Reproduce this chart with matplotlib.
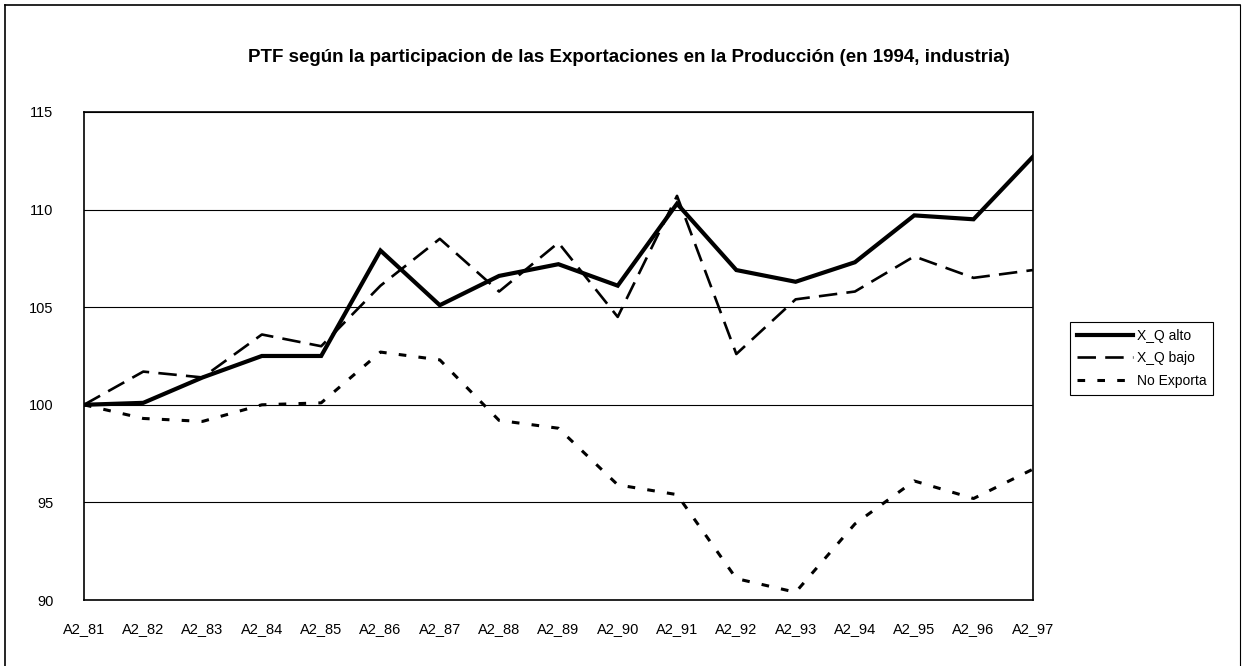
import matplotlib
matplotlib.use("Agg")
import matplotlib.pyplot as plt
from matplotlib.lines import Line2D

plt.rcParams['font.family'] = ['Liberation Sans', 'DejaVu Sans']

# periodos
years = ['A2_81', 'A2_82', 'A2_83', 'A2_84', 'A2_85', 'A2_86', 'A2_87', 'A2_88', 'A2_89',
         'A2_90', 'A2_91', 'A2_92', 'A2_93', 'A2_94', 'A2_95', 'A2_96', 'A2_97']

# PTF por grupo (indice, 1981 = 100)
xq_alto = [100.0, 100.1, 101.4, 102.5, 102.5, 107.9, 105.1, 106.6, 107.2,
           106.1, 110.3, 106.9, 106.3, 107.3, 109.7, 109.5, 112.7]
xq_bajo = [100.0, 101.7, 101.4, 103.6, 103.0, 106.1, 108.5, 105.8, 108.3,
           104.5, 110.7, 102.6, 105.4, 105.8, 107.6, 106.5, 106.9]
no_exporta = [100.0, 99.3, 99.15, 100.0, 100.1, 102.7, 102.3, 99.2, 98.8,
              95.9, 95.4, 91.1, 90.4, 93.9, 96.1, 95.2, 96.7]

title = 'PTF según la participacion de las Exportaciones en la Producción (en 1994, industria)'

fig = plt.figure(figsize=(12.42, 6.66), dpi=100)
ax = fig.add_axes([0.0676, 0.099, 0.764, 0.733])

x = list(range(len(years)))
ax.plot(x, xq_alto, color='black', lw=3.0, solid_joinstyle='miter', label='X_Q alto')
ax.plot(x, xq_bajo, color='black', lw=1.9, dashes=(7, 3.5), label='X_Q bajo')
ax.plot(x, no_exporta, color='black', lw=2.2, dashes=(2.5, 4), label='No Exporta')

ax.set_xlim(0, len(years) - 1)
ax.set_ylim(90, 115)
ax.set_yticks([90, 95, 100, 105, 110, 115])
ax.set_xticks(x)
ax.set_xticklabels(years)
ax.tick_params(length=0, labelsize=10.5)
ax.tick_params(axis='x', pad=16)
ax.tick_params(axis='y', pad=22)
ax.yaxis.grid(True, color='black', lw=0.8)
ax.set_axisbelow(True)
for s in ax.spines.values():
    s.set_linewidth(1.2)

fig.text(0.506, 0.914, title, ha='center', va='center', fontsize=13.5, fontweight='bold')

leg = ax.legend(loc='upper left', bbox_to_anchor=(0.856, 0.527),
                bbox_transform=fig.transFigure, fontsize=10, handlelength=4.0,
                handletextpad=0.3, labelspacing=0.6, borderpad=0.5,
                fancybox=False, framealpha=1)
leg.get_frame().set_edgecolor('black')
leg.get_frame().set_linewidth(0.8)

# marco exterior del grafico
fig.add_artist(Line2D([0.004, 0.998], [0.992, 0.992], transform=fig.transFigure, color='black', lw=1.2))
fig.add_artist(Line2D([0.004, 0.004], [0.0, 0.992], transform=fig.transFigure, color='black', lw=1.2))
fig.add_artist(Line2D([0.998, 0.998], [0.0, 0.992], transform=fig.transFigure, color='black', lw=0.8))

fig.savefig('out.png', dpi=100)
